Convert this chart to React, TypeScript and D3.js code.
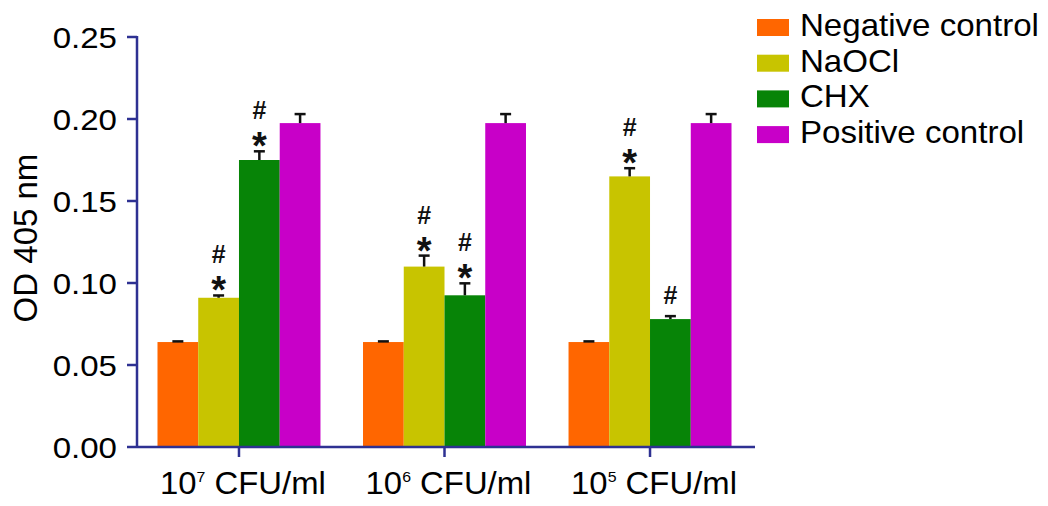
import { useEffect, useRef } from 'react'
import * as d3 from 'd3'

// OD 405 nm per bacterial load
const groups = ['7', '6', '5'] // exponent of 10 CFU/ml
const series = ['Negative control', 'NaOCl', 'CHX', 'Positive control']
const colors = ['#FF6600', '#C8C400', '#078407', '#C800C8']

const negative = [0.064, 0.064, 0.064]
const naocl = [0.091, 0.11, 0.165]
const chx = [0.175, 0.0925, 0.078]
const positive = [0.1975, 0.1975, 0.1975]

const negativeErr = [0.0004, 0.0004, 0.0004]
const naoclErr = [0.0014, 0.0067, 0.005]
const chxErr = [0.0053, 0.0073, 0.0018]
const positiveErr = [0.0055, 0.0055, 0.0055]

// significance marks above each bar (bottom first)
const naoclMarks = [['*', '#'], ['*', '#'], ['*', '#']]
const chxMarks = [['*', '#'], ['*', '#'], ['#']]

const yTicks = [0, 0.05, 0.1, 0.15, 0.2, 0.25]

const values = [negative, naocl, chx, positive]
const errors = [negativeErr, naoclErr, chxErr, positiveErr]
const marks = [null, naoclMarks, chxMarks, null]

const FONT = '"Liberation Sans", Arial, sans-serif'
const AXIS = '#2E3192'

export default function App() {
  const svgRef = useRef<SVGSVGElement>(null)

  useEffect(() => {
    if (!svgRef.current) return
    const svg = d3.select(svgRef.current)
    svg.selectAll('*').remove()

    const left = 137
    const right = 755
    const top = 37
    const bottom = 447

    const x = d3.scaleBand<string>().domain(groups).range([135.5, 753.5]).paddingInner(0.207).paddingOuter(0.107)
    const xs = d3.scaleBand<string>().domain(series).range([0, x.bandwidth()])
    const y = d3.scaleLinear().domain([0, 0.25]).range([bottom, top])

    const rows = groups.flatMap((g, gi) =>
      series.map((s, si) => ({
        g,
        s,
        si,
        v: values[si][gi],
        e: errors[si][gi],
        m: marks[si] ? (marks[si] as string[][])[gi] : [],
      })),
    )

    // bars
    svg
      .append('g')
      .selectAll('rect')
      .data(rows)
      .enter()
      .append('rect')
      .attr('x', (d) => (x(d.g) as number) + (xs(d.s) as number))
      .attr('y', (d) => y(d.v))
      .attr('width', xs.bandwidth())
      .attr('height', (d) => bottom - y(d.v))
      .attr('fill', (d) => colors[d.si])

    // error bars (upper only)
    const eb = svg.append('g').attr('stroke', '#111').attr('stroke-width', 2.5)
    rows.forEach((d) => {
      const cx = (x(d.g) as number) + (xs(d.s) as number) + xs.bandwidth() / 2
      eb.append('line').attr('x1', cx).attr('x2', cx).attr('y1', y(d.v)).attr('y2', y(d.v + d.e))
      eb.append('line').attr('x1', cx - 5.5).attr('x2', cx + 5.5).attr('y1', y(d.v + d.e)).attr('y2', y(d.v + d.e))
    })

    // significance symbols
    rows.forEach((d) => {
      const cx = (x(d.g) as number) + (xs(d.s) as number) + xs.bandwidth() / 2
      const t = y(d.v + d.e)
      d.m.forEach((sym, k) => {
        const isStar = sym === '*'
        const base = k === 0 ? (isStar ? t + 8 : t - 12) : t - 32
        svg
          .append('text')
          .attr('x', cx)
          .attr('y', base)
          .attr('text-anchor', 'middle')
          .style('font-family', FONT)
          .style('font-weight', 'bold')
          .style('font-size', isStar ? '38px' : '25px')
          .attr('fill', '#111')
          .text(sym)
      })
    })

    // axes
    const ax = svg.append('g').attr('stroke', AXIS).attr('stroke-width', 2.5).attr('fill', 'none')
    ax.append('line').attr('x1', left).attr('x2', left).attr('y1', top - 1).attr('y2', bottom)
    ax.append('line').attr('x1', left).attr('x2', right).attr('y1', bottom).attr('y2', bottom)
    yTicks.forEach((t) => {
      ax.append('line').attr('x1', left - 10).attr('x2', left).attr('y1', y(t)).attr('y2', y(t))
    })
    groups.forEach((g) => {
      const cx = (x(g) as number) + x.bandwidth() / 2
      ax.append('line').attr('x1', cx).attr('x2', cx).attr('y1', bottom).attr('y2', bottom + 10)
    })

    // y tick labels
    yTicks.forEach((t) => {
      svg
        .append('text')
        .attr('transform', `translate(117,${y(t) + 10.5}) scale(1.14,1)`)
        .attr('text-anchor', 'end')
        .style('font-family', FONT)
        .style('font-size', '29px')
        .attr('fill', '#000')
        .text(d3.format('.2f')(t))
    })

    // x labels with superscript exponent
    groups.forEach((g) => {
      const cx = (x(g) as number) + x.bandwidth() / 2 + 4
      const txt = svg
        .append('text')
        .attr('transform', `translate(${cx},494) scale(1.06,1)`)
        .attr('text-anchor', 'middle')
        .style('font-family', FONT)
        .style('font-size', '31px')
        .attr('fill', '#000')
      txt.append('tspan').text('10')
      txt.append('tspan').attr('dy', -12).style('font-size', '15px').text(g)
      txt.append('tspan').attr('dy', 12).text(' CFU/ml')
    })

    // y axis title
    svg
      .append('text')
      .attr('transform', `translate(37,238) rotate(-90)`)
      .attr('text-anchor', 'middle')
      .style('font-family', FONT)
      .style('font-size', '33px')
      .attr('fill', '#000')
      .text('OD 405 nm')

    // legend
    const lg = svg.append('g').attr('transform', 'translate(757,19)')
    series.forEach((s, i) => {
      lg.append('rect')
        .attr('x', 0)
        .attr('y', i * 35.7)
        .attr('width', 32)
        .attr('height', 17)
        .attr('fill', colors[i])
      lg.append('text')
        .attr('transform', `translate(43,${i * 35.7 + 17}) scale(1.05,1)`)
        .style('font-family', FONT)
        .style('font-size', '31.5px')
        .attr('fill', '#000')
        .text(s)
    })
  }, [])

  return (
    <svg
      ref={svgRef}
      width={1048}
      height={506}
      style={{ position: 'absolute', left: 0, top: 0, background: '#fff' }}
    />
  )
}
